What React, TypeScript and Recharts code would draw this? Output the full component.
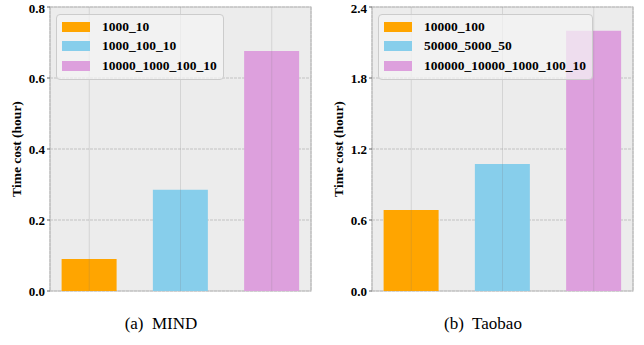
import React from 'react';
import { BarChart, Bar, XAxis, YAxis, CartesianGrid, Legend, ReferenceLine, ReferenceArea } from 'recharts';

// MIND panel
const mindNames = ['1000_10', '1000_100_10', '10000_1000_100_10'];
const mindValues = [0.09, 0.285, 0.676];
const mindTicks = [0, 0.2, 0.4, 0.6, 0.8];

// Taobao panel
const taobaoNames = ['10000_100', '50000_5000_50', '100000_10000_1000_100_10'];
const taobaoValues = [0.685, 1.073, 2.2];
const taobaoTicks = [0, 0.6, 1.2, 1.8, 2.4];

const colors = ['#FFA500', '#87CEEB', '#DDA0DD'];
const serif = '"Liberation Serif", "DejaVu Serif", serif';
const X_MIN = -0.43;
const X_MAX = 2.43;

// one row per bar, every series only filled in its own slot, stacked so the bar takes full width
const buildRows = (values: number[]) =>
  values.map((v, i) => {
    const row: Record<string, number | null> = { x: i };
    values.forEach((_, j) => {
      row[`s${j}`] = i === j ? v : null;
    });
    return row;
  });

const LegendBox = ({ payload, names }: any) => {
  // keep the series order instead of recharts' sorted order
  const items = [...(payload || [])].sort((a: any, b: any) => names.indexOf(a.value) - names.indexOf(b.value));
  return (
    <div
      style={{
        border: '1px solid #cccccc',
        borderRadius: 4,
        background: 'rgba(244,244,244,0.72)',
        padding: '2px 6px 3px 5px',
        fontFamily: serif,
        fontWeight: 700,
        fontSize: 13.5,
        color: '#000',
      }}
    >
      {items.map((p: any, i: number) => (
        <div key={i} style={{ display: 'flex', alignItems: 'center', height: 19.5 }}>
          <span style={{ display: 'inline-block', width: 28, height: 10, background: p.color, marginRight: 12 }} />
          <span>{p.value}</span>
        </div>
      ))}
    </div>
  );
};

interface PanelProps {
  names: string[];
  values: number[];
  ticks: number[];
  caption: string;
}

const Panel: React.FC<PanelProps> = ({ names, values, ticks, caption }) => {
  const rows = buildRows(values);
  const yMax = ticks[ticks.length - 1];
  return (
    <div style={{ position: 'relative', width: 322, height: 345 }}>
      <BarChart width={322} height={300} data={rows} margin={{ top: 7, right: 11, left: 0, bottom: 0 }}>
        <CartesianGrid fill="#ececec" stroke="#c2c2c2" strokeDasharray="3 1" />
        <XAxis
          dataKey="x"
          type="number"
          domain={[X_MIN, X_MAX]}
          ticks={[0, 0.5, 1, 1.5, 2]}
          tick={false}
          tickLine={{ stroke: '#444' }}
          tickSize={2}
          axisLine={false}
          height={9}
        />
        <YAxis
          domain={[0, yMax]}
          ticks={ticks}
          tickFormatter={(v: number) => v.toFixed(1)}
          width={50}
          tickSize={3}
          tickLine={{ stroke: '#666' }}
          axisLine={false}
          tick={{ fontFamily: serif, fontWeight: 700, fontSize: 13, fill: '#000' }}
          label={{
            value: 'Time cost (hour)',
            angle: -90,
            position: 'insideLeft',
            offset: 16,
            style: { textAnchor: 'middle', fontFamily: serif, fontWeight: 700, fontSize: 13.5, fill: '#000' },
          }}
        />
        {names.map((n, i) => (
          <Bar key={n} dataKey={`s${i}`} name={n} stackId="a" fill={colors[i]} barSize={55} isAnimationActive={false} />
        ))}
        {[0, 1, 2].map((x) => (
          <ReferenceLine key={x} x={x} stroke="rgba(120,120,120,0.2)" />
        ))}
        <ReferenceArea x1={X_MIN} x2={X_MAX} y1={0} y2={yMax} fill="none" stroke="#bdbdbd" strokeWidth={1.2} />
        <Legend
          layout="vertical"
          align="center"
          verticalAlign="middle"
          content={<LegendBox names={names} />}
          wrapperStyle={{ top: 14, left: 56, width: 'auto' }}
        />
      </BarChart>
      <div
        style={{
          position: 'absolute',
          top: 314,
          left: 0,
          width: 322,
          textAlign: 'center',
          fontFamily: serif,
          fontSize: 17,
          color: '#000',
          whiteSpace: 'pre',
        }}
      >
        {caption}
      </div>
    </div>
  );
};

const App: React.FC = () => (
  <div style={{ position: 'absolute', left: 0, top: 0, width: 644, height: 345, background: '#fff', display: 'flex' }}>
    <Panel names={mindNames} values={mindValues} ticks={mindTicks} caption="(a)  MIND" />
    <Panel names={taobaoNames} values={taobaoValues} ticks={taobaoTicks} caption="(b)  Taobao" />
  </div>
);

export default App;
